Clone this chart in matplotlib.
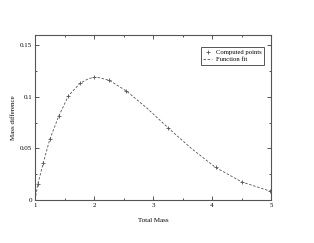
import numpy as np
import matplotlib
matplotlib.use("Agg")
import matplotlib.pyplot as plt
from matplotlib.ticker import MultipleLocator

# ==============================
# Data
# ==============================
total_mass = [1.05, 1.14, 1.25, 1.40, 1.565, 1.76, 2.0, 2.26, 2.55, 3.25, 4.06, 4.51, 4.98]
mass_diff = [0.016, 0.036, 0.0587, 0.081, 0.101, 0.113, 0.119, 0.116, 0.1057, 0.0703, 0.0316, 0.0174, 0.0087]

fit_x = [1.0, 1.05, 1.14, 1.25, 1.40, 1.565, 1.76, 1.9, 2.0, 2.1, 2.26, 2.55, 2.9, 3.25, 3.65, 4.06, 4.51, 4.98, 5.0]
fit_y = [0.0, 0.016, 0.036, 0.0587, 0.081, 0.101, 0.113, 0.1175, 0.119, 0.1185, 0.116, 0.1057, 0.089, 0.0703, 0.050, 0.0316, 0.0174, 0.0087, 0.0084]

plt.rcParams['font.family'] = ['Liberation Serif', 'DejaVu Serif']

fig = plt.figure(figsize=(3.14, 2.43), dpi=100)
ax = fig.add_axes([35 / 314, 1 - 200 / 243, 236 / 314, 165 / 243])

grey = '#555555'
ax.plot(fit_x, fit_y, ls=(0, (3, 2)), color=grey, lw=0.6, label='Function fit')
ax.plot(total_mass, mass_diff, ls='none', marker='+', ms=2.5, mew=0.6,
        color=grey, label='Computed points')

ax.set_xlim(1, 5)
ax.set_ylim(0, 0.16)
ax.xaxis.set_minor_locator(MultipleLocator(0.5))
ax.yaxis.set_minor_locator(MultipleLocator(0.025))
ax.set_xticks([1, 2, 3, 4, 5], ['1', '2', '3', '4', '5'])
ax.set_yticks([0, 0.05, 0.1, 0.15], ['0', '0.05', '0.1', '0.15'])

ax.tick_params(which='both', direction='in', top=True, right=True,
               colors=grey, labelcolor='black', labelsize=5, pad=2, width=0.7)
ax.tick_params(which='major', length=3)
ax.tick_params(which='minor', length=1.5)
for sp in ax.spines.values():
    sp.set_color(grey)
    sp.set_linewidth(0.8)

ax.set_xlabel('Total Mass', fontsize=5, labelpad=7)
ax.set_ylabel('Mass difference', fontsize=5, labelpad=3)

handles, labels = ax.get_legend_handles_labels()
leg = ax.legend(handles[::-1], labels[::-1], loc='upper right', fontsize=4.8,
                fancybox=False, framealpha=1, edgecolor=grey,
                borderpad=0.35, handlelength=1.3, handletextpad=0.6,
                labelspacing=0.25, borderaxespad=0,
                bbox_to_anchor=(0.97, 0.927))
leg.get_frame().set_linewidth(0.7)

fig.savefig('out.png', dpi=100)
